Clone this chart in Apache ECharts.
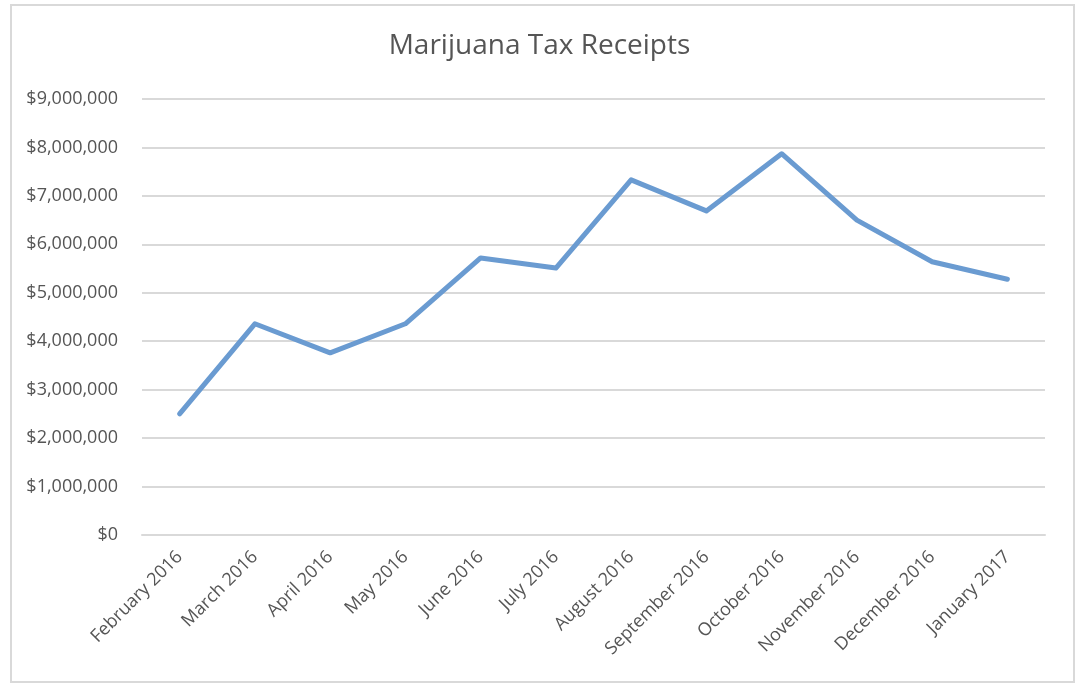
<!DOCTYPE html>
<html>
<head>
<meta charset="utf-8">
<script src="https://cdn.jsdelivr.net/npm/echarts@6/dist/echarts.min.js"></script>
<style>
  html, body { margin: 0; padding: 0; background: #fff; }
  .frame {
    position: absolute; left: 10px; top: 4px; width: 1061px; height: 675px;
    border: 2px solid #d9d9d9;
  }
  #chart { position: absolute; left: 0; top: 0; width: 1079px; height: 684px; }
</style>
</head>
<body>
<div class="frame"></div>
<div id="chart"></div>
<script>
// months along the x axis
const months = [
  "February 2016", "March 2016", "April 2016", "May 2016", "June 2016", "July 2016",
  "August 2016", "September 2016", "October 2016", "November 2016", "December 2016", "January 2017"
];
// tax receipts in dollars
const receipts = [
  2500000, 4360000, 3760000, 4360000, 5720000, 5510000,
  7330000, 6690000, 7870000, 6500000, 5640000, 5280000
];
const yMax = 9000000;
const yStep = 1000000;

const chart = echarts.init(document.getElementById("chart"));

const fmt = (v) => "$" + v.toLocaleString("en-US");

chart.setOption({
  animation: false,
  title: {
    text: "Marijuana Tax Receipts",
    left: "center",
    top: 27,
    textStyle: {
      fontFamily: "Open Sans",
      fontSize: 28,
      fontWeight: "normal",
      color: "#555555",
    },
  },
  grid: {
    left: 142,
    right: 34,
    top: 99,
    bottom: 149,
  },
  xAxis: {
    type: "category",
    data: months,
    boundaryGap: true,
    axisTick: { show: false },
    axisLine: { lineStyle: { color: "#d9d9d9", width: 2 } },
    axisLabel: {
      rotate: 45,
      interval: 0,
      margin: 19,
      color: "#555555",
      fontFamily: "Open Sans",
      fontSize: 18,
    },
  },
  yAxis: {
    type: "value",
    min: 0,
    max: yMax,
    interval: yStep,
    axisLine: { show: false },
    axisTick: { show: false },
    splitLine: { lineStyle: { color: "#d9d9d9", width: 2 } },
    axisLabel: {
      margin: 24,
      color: "#555555",
      fontFamily: "Open Sans",
      fontSize: 18,
      formatter: fmt,
    },
  },
  series: [
    {
      type: "line",
      data: receipts,
      showSymbol: false,
      lineStyle: { color: "#6a9bd1", width: 5, cap: "round", join: "round" },
      itemStyle: { color: "#6a9bd1" },
    },
  ],
});
</script>
</body>
</html>
